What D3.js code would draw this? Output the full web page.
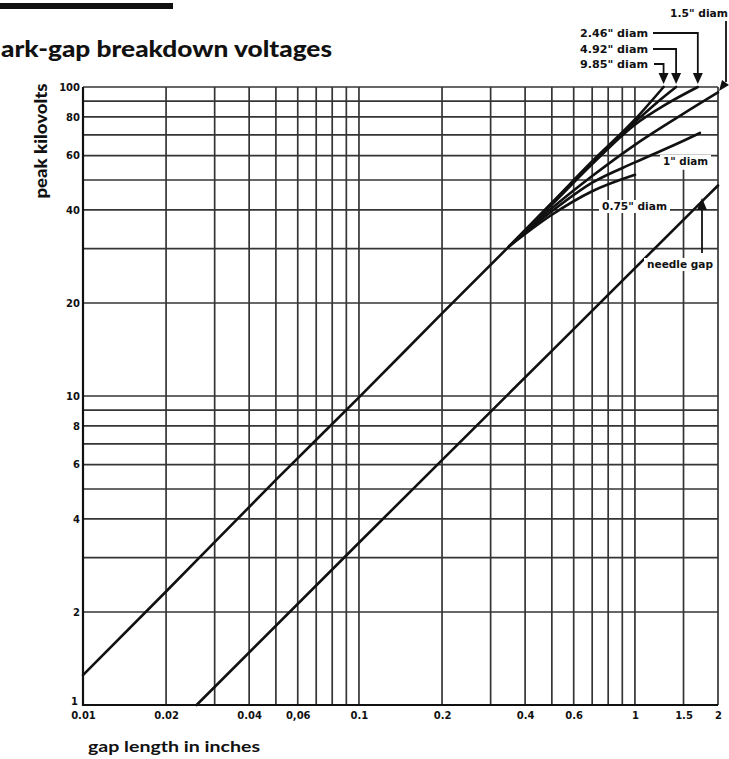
<!DOCTYPE html>
<html>
<head>
<meta charset="utf-8">
<script src="https://cdn.jsdelivr.net/npm/d3@7"></script>
<style>
  body { margin: 0; background: #fff; }
  svg { display: block; }
</style>
</head>
<body>
<svg id="chart" width="729" height="759"></svg>
<script>
// ---- gap length (inches) grid and tick labels ----
const gapGrid = [0.01, 0.02, 0.03, 0.04, 0.05, 0.06, 0.07, 0.08, 0.09,
                 0.1, 0.2, 0.3, 0.4, 0.5, 0.6, 0.7, 0.8, 0.9, 1, 1.5, 2];
const gapTicks = [0.01, 0.02, 0.04, 0.06, 0.1, 0.2, 0.4, 0.6, 1, 1.5, 2];
const gapTickLabels = ["0.01", "0.02", "0.04", "0,06", "0.1", "0.2", "0.4", "0.6", "1", "1.5", "2"];

// ---- peak kilovolts grid and tick labels ----
const kvGrid = [1, 2, 3, 4, 5, 6, 7, 8, 9, 10, 20, 30, 40, 50, 60, 70, 80, 90, 100];
const kvTicks = [1, 2, 4, 6, 8, 10, 20, 40, 60, 80, 100];
const kvTickLabels = ["1", "2", "4", "6", "8", "10", "20", "40", "60", "80", "100"];

// ---- sphere gaps: common straight part below ~0.35 in ----
const trunkGap = [0.01, 0.02, 0.05, 0.1, 0.2, 0.35];
const trunkKv  = [1.25, 2.33, 5.35, 9.9, 18.5, 30.5];

// ---- sphere gaps: branches by sphere diameter ----
const d985Gap = [0.35, 0.5, 0.7, 1.0, 1.27];
const d985Kv  = [30.5, 42.2, 57.5, 78.5, 100];
const d492Gap = [0.35, 0.5, 0.7, 1.0, 1.2, 1.41];
const d492Kv  = [30.5, 42, 57, 77, 89, 100];
const d246Gap = [0.35, 0.5, 0.7, 1.0, 1.3, 1.69];
const d246Kv  = [30.5, 41.6, 56.3, 75.5, 88, 100];
const d150Gap = [0.35, 0.5, 0.7, 1.0, 1.5, 2];
const d150Kv  = [30.5, 40.5, 51.5, 65, 82, 96];
const d100Gap = [0.35, 0.5, 0.7, 1.0, 1.5, 1.72];
const d100Kv  = [30.5, 39.6, 49, 57, 67, 71];
const d075Gap = [0.35, 0.5, 0.7, 1.0];
const d075Kv  = [30.5, 38.6, 46, 52];

// ---- needle gap ----
const needleGap = [0.0258, 0.1, 0.5, 2];
const needleKv  = [1, 3.35, 14, 48];

const svg = d3.select("#chart");

const x = d3.scaleLog().domain([0.01, 2]).range([83, 718]);
const y = d3.scaleLog().domain([1, 100]).range([705, 87]);

const ink = "#111";
const gridInk = "#353535";
const tickFont = "'DejaVu Sans', Verdana, sans-serif";

// rule above the heading
svg.append("rect").attr("x", 0).attr("y", 3).attr("width", 173).attr("height", 6).attr("fill", ink);

// heading
svg.append("text")
  .attr("x", 1).attr("y", 57)
  .attr("font-family", "Lato, 'Open Sans', sans-serif")
  .attr("font-weight", 900)
  .attr("font-size", 22)
  .attr("textLength", 331)
  .attr("lengthAdjust", "spacingAndGlyphs")
  .attr("fill", ink)
  .text("ark-gap breakdown voltages");

// ---- grid ----
const grid = svg.append("g").attr("stroke", gridInk).attr("stroke-width", 1.7);
grid.selectAll("line.v").data(gapGrid).join("line")
  .attr("class", "v")
  .attr("x1", d => x(d)).attr("x2", d => x(d))
  .attr("y1", d => d === 1.5 ? y(54) : y(100))
  .attr("y2", y(1));
grid.selectAll("line.h").data(kvGrid).join("line")
  .attr("class", "h")
  .attr("x1", x(0.01)).attr("x2", x(2))
  .attr("y1", d => y(d)).attr("y2", d => y(d));

// frame (left and bottom heavier)
svg.append("line").attr("x1", x(0.01)).attr("x2", x(0.01)).attr("y1", y(100)).attr("y2", y(1) + 1)
  .attr("stroke", ink).attr("stroke-width", 2.2);
svg.append("line").attr("x1", x(0.01)).attr("x2", x(2)).attr("y1", y(1)).attr("y2", y(1))
  .attr("stroke", ink).attr("stroke-width", 2.2);

// ---- axes (labels only) ----
const yAxis = d3.axisLeft(y)
  .tickValues(kvTicks)
  .tickFormat((d, i) => kvTickLabels[i])
  .tickSize(0).tickPadding(3);
const gy = svg.append("g").attr("transform", `translate(${x(0.01)},0)`).call(yAxis);
gy.select(".domain").remove();
gy.selectAll("text")
  .attr("font-family", tickFont).attr("font-weight", "bold")
  .attr("font-size", 10).attr("fill", ink);
// lift the bottom "1" so it clears the gap labels
gy.selectAll(".tick").filter(d => d === 1).select("text").attr("dy", "-0.05em").attr("x", -5);

const xAxis = d3.axisBottom(x)
  .tickValues(gapTicks)
  .tickFormat((d, i) => gapTickLabels[i])
  .tickSize(0).tickPadding(7);
const gx = svg.append("g").attr("transform", `translate(0,${y(1)})`).call(xAxis);
gx.select(".domain").remove();
gx.selectAll("text")
  .attr("font-family", tickFont).attr("font-weight", "bold")
  .attr("font-size", 10).attr("fill", ink);

// axis titles
svg.append("text")
  .attr("transform", "translate(47,141) rotate(-90)")
  .attr("text-anchor", "middle")
  .attr("font-family", "Lato, 'Open Sans', sans-serif")
  .attr("font-weight", 900).attr("font-size", 16)
  .attr("textLength", 115).attr("lengthAdjust", "spacingAndGlyphs")
  .attr("fill", ink)
  .text("peak kilovolts");

svg.append("text")
  .attr("x", 88).attr("y", 752)
  .attr("font-family", "Lato, 'Open Sans', sans-serif")
  .attr("font-weight", 700).attr("font-size", 16)
  .attr("textLength", 172).attr("lengthAdjust", "spacingAndGlyphs")
  .attr("fill", ink)
  .text("gap length in inches");

// ---- curves ----
const line = d3.line()
  .x(d => x(d[0])).y(d => y(d[1]))
  .curve(d3.curveMonotoneX);
const series = [
  [needleGap, needleKv],
  [trunkGap, trunkKv],
  [d075Gap, d075Kv],
  [d100Gap, d100Kv],
  [d150Gap, d150Kv],
  [d246Gap, d246Kv],
  [d492Gap, d492Kv],
  [d985Gap, d985Kv]
];
svg.append("g")
  .attr("fill", "none").attr("stroke", ink)
  .attr("stroke-width", 2.6).attr("stroke-linecap", "round")
  .selectAll("path").data(series).join("path")
  .attr("d", s => line(s[0].map((g, i) => [g, s[1][i]])));

// ---- annotations ----
function label(txt, lx, ly, len, bg) {
  const t = svg.append("text")
    .attr("x", lx).attr("y", ly)
    .attr("font-family", tickFont).attr("font-weight", "bold")
    .attr("font-size", 10).attr("fill", ink)
    .attr("textLength", len).attr("lengthAdjust", "spacingAndGlyphs")
    .text(txt);
  if (bg) {
    const b = t.node().getBBox();
    svg.insert("rect", () => t.node())
      .attr("x", b.x - 3).attr("y", b.y - 1)
      .attr("width", b.width + 6).attr("height", b.height + 2)
      .attr("fill", "#fff");
  }
  return t;
}
const lead = svg.append("g").attr("fill", "none").attr("stroke", ink).attr("stroke-width", 1.8);
function arrowDown(ax) {
  svg.append("path")
    .attr("d", `M${ax - 5},73 L${ax + 5},73 L${ax},84 Z`)
    .attr("fill", ink);
}

// diameters reaching 100 kV
label("2.46\" diam", 580, 37, 68);
lead.append("path").attr("d", `M653,33 H${x(1.69)} V74`);
arrowDown(x(1.69));
label("4.92\" diam", 580, 53, 68);
lead.append("path").attr("d", `M653,49 H${x(1.41)} V74`);
arrowDown(x(1.41));
label("9.85\" diam", 580, 68, 68);
lead.append("path").attr("d", `M654,64 H${x(1.27)} V74`);
arrowDown(x(1.27));

label("1.5\" diam", 670, 17, 58);
lead.append("path").attr("d", "M726,21 V82");
svg.append("path").attr("d", "M719,91 L722,80 L729,85 Z").attr("fill", ink);

label("1\" diam", 663, 165, 45, true);
label("0.75\" diam", 602, 210, 65, true);
label("needle gap", 647, 268, 66, true);

// needle gap pointer
lead.append("path").attr("d", "M702,209 V253");
svg.append("path").attr("d", "M697,210 L707,210 L702,198 Z").attr("fill", ink);
</script>
</body>
</html>
